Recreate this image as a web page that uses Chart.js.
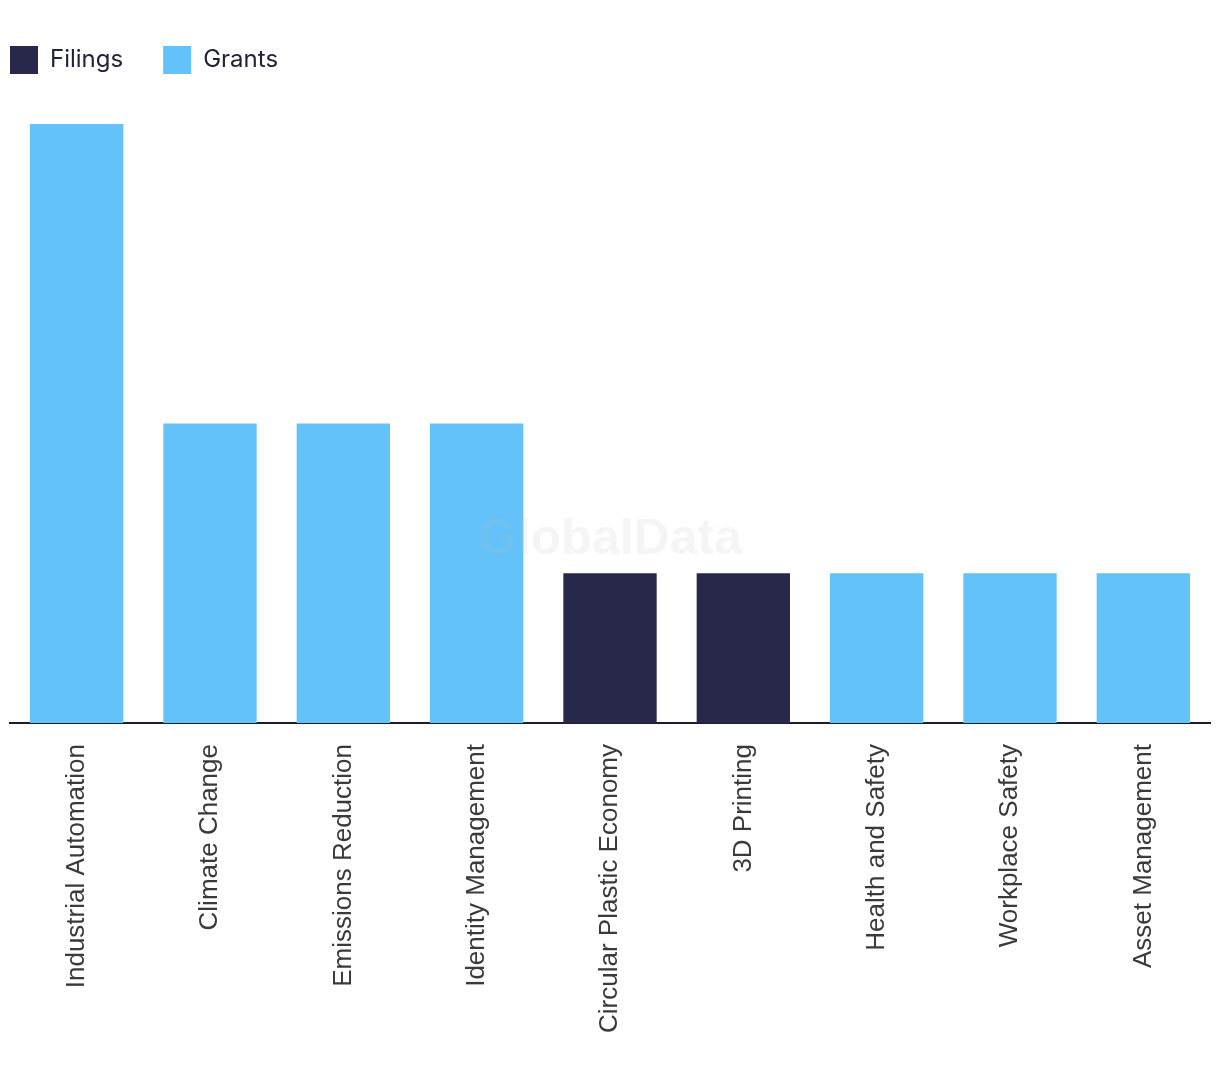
<!DOCTYPE html>
<html>
<head>
<meta charset="utf-8">
<script src="https://cdn.jsdelivr.net/npm/chart.js@4"></script>
<style>
  html, body { margin: 0; padding: 0; background: #fff; }
  #wrap { width: 1220px; height: 1078px; position: relative; }
</style>
</head>
<body>
<div id="wrap"><canvas id="patentChart"></canvas></div>
<script>
// data
const categories = ['Industrial Automation', 'Climate Change', 'Emissions Reduction', 'Identity Management',
    'Circular Plastic Economy', '3D Printing', 'Health and Safety', 'Workplace Safety', 'Asset Management'];
const filings = [null, null, null, null, 1, 1, null, null, null];
const grants = [4, 2, 2, 2, null, null, 1, 1, 1];

const LEGEND_PAD = 40;

// faint watermark over the bars
const watermark = {
    id: 'watermark',
    afterDatasetsDraw(chart) {
        const { ctx, chartArea } = chart;
        ctx.save();
        ctx.font = 'bold 50px "Liberation Sans", Arial, sans-serif';
        ctx.fillStyle = 'rgba(190,190,190,0.15)';
        ctx.textAlign = 'center';
        ctx.textBaseline = 'middle';
        ctx.fillText('GlobalData', (chartArea.left + chartArea.right) / 2, 540);
        ctx.restore();
    }
};

// legend: fixed height, and pulled left so the first box sits at x=10
const legendTweak = {
    id: 'legendTweak',
    beforeInit(chart) {
        const fit = chart.legend.fit;
        chart.legend.fit = function () {
            fit.bind(chart.legend)();
            this.height = 118;
        };
    },
    beforeDraw(chart) {
        chart.legend.left = 10 - LEGEND_PAD;
    }
};

new Chart(document.getElementById('patentChart'), {
    type: 'bar',
    data: {
        labels: categories,
        datasets: [
            { label: 'Filings', data: filings, backgroundColor: '#27284a' },
            { label: 'Grants', data: grants, backgroundColor: '#62c2f9' }
        ]
    },
    options: {
        responsive: true,
        maintainAspectRatio: false,
        animation: false,
        datasets: { bar: { barPercentage: 0.7, categoryPercentage: 1 } },
        layout: { padding: { top: 6, left: 10, right: 10, bottom: 0 } },
        plugins: {
            legend: {
                position: 'top',
                align: 'start',
                labels: {
                    boxWidth: 28,
                    boxHeight: 28,
                    padding: LEGEND_PAD,
                    color: '#22223a',
                    font: { family: 'Inter, "Noto Sans", sans-serif', size: 24 }
                }
            },
            tooltip: { enabled: false }
        },
        scales: {
            x: {
                stacked: true,
                grid: { display: false },
                border: { display: true, color: '#1c1c2e', width: 2 },
                ticks: {
                    minRotation: 90,
                    maxRotation: 90,
                    autoSkip: false,
                    padding: 13,
                    color: '#3a3a3a',
                    font: { family: '"Liberation Sans", Arial, sans-serif', size: 26 }
                },
                afterFit(scale) { scale.height = 355; }
            },
            y: {
                stacked: true,
                display: false,
                min: 0,
                max: 4
            }
        }
    },
    plugins: [watermark, legendTweak]
});
</script>
</body>
</html>
